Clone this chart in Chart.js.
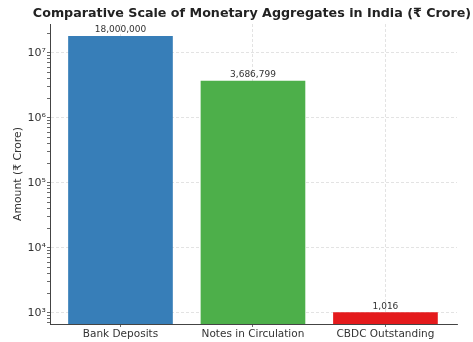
<!DOCTYPE html>
<html>
<head>
<meta charset="utf-8">
<script src="https://cdn.jsdelivr.net/npm/chart.js@4/dist/chart.umd.min.js"></script>
<style>
  html, body { margin: 0; padding: 0; background: #ffffff; }
  #wrap { width: 473px; height: 342px; }
</style>
</head>
<body>
<div id="wrap"><canvas id="c" width="473" height="342"></canvas></div>
<script>
const categories = ['Bank Deposits', 'Notes in Circulation', 'CBDC Outstanding'];
const amounts = [18000000, 3686799, 1016];
const barColors = ['#377eb8', '#4daf4a', '#e41a1c'];
const yMajorTicks = [1e3, 1e4, 1e5, 1e6, 1e7];
const yMajorLabels = ['10³', '10⁴', '10⁵', '10⁶', '10⁷'];
const yMinorMultipliers = [2, 3, 4, 5, 6, 7, 8, 9];
const chartTitle = 'Comparative Scale of Monetary Aggregates in India (₹ Crore)';
const yTitle = 'Amount (₹ Crore)';

const FONT = "'DejaVu Sans', sans-serif";
const Y_MIN = 670, Y_MAX = 2.76e7;

const valueLabels = {
  id: 'valueLabels',
  afterDatasetsDraw(chart) {
    const ctx = chart.ctx;
    const meta = chart.getDatasetMeta(0);
    ctx.save();
    ctx.font = '9px ' + FONT;
    ctx.fillStyle = '#333333';
    ctx.textAlign = 'center';
    ctx.textBaseline = 'bottom';
    meta.data.forEach((bar, i) => {
      ctx.fillText(amounts[i].toLocaleString('en-US'), bar.x, bar.y - 1.5);
    });
    ctx.restore();
  }
};

const axesTitle = {
  id: 'axesTitle',
  afterDraw(chart) {
    const ctx = chart.ctx;
    const a = chart.chartArea;
    ctx.save();
    ctx.font = 'bold 12.7px ' + FONT;
    ctx.fillStyle = '#222222';
    ctx.textAlign = 'center';
    ctx.textBaseline = 'middle';
    ctx.fillText(chartTitle, (a.left + a.right) / 2 - 1.5, 14);
    ctx.restore();
  }
};

new Chart(document.getElementById('c'), {
  type: 'bar',
  data: {
    datasets: [{
      data: amounts.map((v, i) => ({ x: i, y: v })),
      backgroundColor: barColors,
      borderWidth: 0,
      barPercentage: 0.79,
      categoryPercentage: 1.0
    }]
  },
  options: {
    responsive: false,
    animation: false,
    devicePixelRatio: 1,
    layout: { padding: { left: 4, right: 16, top: 24, bottom: 0 } },
    plugins: {
      legend: { display: false },
      tooltip: { enabled: false },
      title: { display: false }
    },
    scales: {
      x: {
        type: 'linear',
        offset: false,
        min: -0.532,
        max: 2.54,
        z: 1,
        afterFit(scale) { scale.height = 18; },
        afterBuildTicks(scale) {
          scale.ticks = categories.map((c, i) => ({ value: i }));
        },
        ticks: {
          autoSkip: false,
          maxRotation: 0,
          padding: 1,
          color: '#333333',
          font: { family: FONT, size: 10.5 },
          callback: (v) => categories[v] !== undefined ? categories[v] : ''
        },
        grid: {
          offset: false,
          color: 'rgba(190,190,190,0.55)',
          tickColor: '#444444',
          tickLength: 3,
          lineWidth: 0.8
        },
        border: { display: true, color: '#444444', width: 1, dash: [3, 2] }
      },
      y: {
        type: 'logarithmic',
        min: Y_MIN,
        max: Y_MAX,
        z: 1,
        afterFit(scale) { scale.width = 46; },
        afterBuildTicks(scale) {
          const t = [];
          yMajorTicks.forEach((m, k) => {
            t.push({ value: m, major: true });
            yMinorMultipliers.forEach(mm => {
              const v = m * mm;
              if (v <= Y_MAX) t.push({ value: v });
            });
            if (k === 0) {
              yMinorMultipliers.forEach(mm => {
                const v = (m / 10) * mm;
                if (v >= Y_MIN) t.push({ value: v });
              });
            }
          });
          t.sort((a, b) => a.value - b.value);
          scale.ticks = t;
        },
        ticks: {
          autoSkip: false,
          padding: 1,
          color: '#333333',
          font: { family: FONT, size: 11 },
          callback: (v) => {
            const idx = yMajorTicks.indexOf(v);
            return idx >= 0 ? yMajorLabels[idx] : '';
          }
        },
        grid: {
          color: (ctx) => (ctx.tick && yMajorTicks.indexOf(ctx.tick.value) >= 0) ? 'rgba(190,190,190,0.55)' : 'rgba(0,0,0,0)',
          tickColor: '#444444',
          tickLength: 3,
          lineWidth: 0.8
        },
        border: { display: true, color: '#444444', width: 1, dash: [3, 2] },
        title: {
          display: true,
          text: yTitle,
          color: '#333333',
          font: { family: FONT, size: 10.8 },
          padding: { top: 8, bottom: 0 }
        }
      }
    }
  },
  plugins: [valueLabels, axesTitle]
});
</script>
</body>
</html>
